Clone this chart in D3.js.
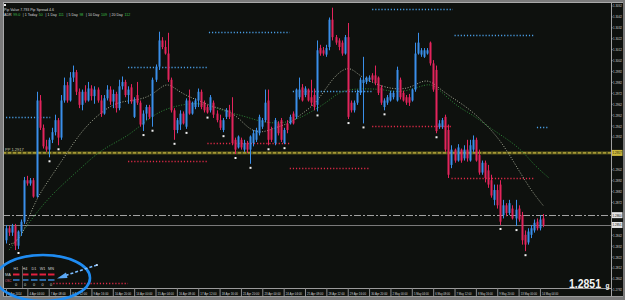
<!DOCTYPE html>
<html><head><meta charset="utf-8">
<script src="https://cdn.jsdelivr.net/npm/d3@7"></script>
<style>html,body{margin:0;padding:0;background:#777;} svg{display:block;}</style>
</head><body><svg id="c" width="625" height="300"></svg>
<script>
// ---------- DATA ----------
// H4 candles: [open, high, low, close]
const candles = [
[1.2837,1.2851,1.2834,1.2848],[1.2848,1.2850,1.2841,1.2844],[1.2844,1.2852,1.2841,1.2850],[1.2850,1.2852,1.2828,1.2832],
[1.2832,1.2846,1.2829,1.2845],[1.2845,1.2856,1.2841,1.2854],[1.2854,1.2895,1.2852,1.2892],[1.2892,1.2896,1.2887,1.2889],
[1.2889,1.2894,1.2887,1.2892],[1.2892,1.2894,1.2876,1.2877],[1.2877,1.2973,1.2876,1.2965],[1.2965,1.2970,1.2938,1.2940],
[1.2940,1.2943,1.2921,1.2923],[1.2923,1.2929,1.2918,1.2920],[1.2920,1.2931,1.2913,1.2929],[1.2929,1.2940,1.2926,1.2936],
[1.2936,1.2952,1.2933,1.2947],[1.2947,1.2949,1.2924,1.2931],[1.2931,1.2970,1.2929,1.2965],[1.2965,1.2986,1.2963,1.2979],
[1.2979,1.2982,1.2963,1.2965],[1.2965,1.2991,1.2964,1.2986],[1.2986,1.2997,1.2982,1.2991],[1.2991,1.2993,1.2970,1.2973],
[1.2973,1.2976,1.2958,1.2961],[1.2961,1.2975,1.2956,1.2973],[1.2973,1.2979,1.2963,1.2965],[1.2965,1.2982,1.2964,1.2976],
[1.2976,1.2979,1.2965,1.2969],[1.2969,1.2978,1.2962,1.2975],[1.2975,1.2977,1.2963,1.2965],[1.2965,1.2970,1.2950,1.2953],
[1.2953,1.2970,1.2952,1.2967],[1.2967,1.2979,1.2965,1.2975],[1.2975,1.2978,1.2961,1.2964],[1.2964,1.2975,1.2958,1.2971],
[1.2971,1.2973,1.2954,1.2958],[1.2958,1.2984,1.2956,1.2978],[1.2978,1.2987,1.2975,1.2982],[1.2982,1.2984,1.2968,1.2970],
[1.2970,1.2978,1.2962,1.2975],[1.2977,1.2980,1.2962,1.2964],[1.2950,1.2968,1.2949,1.2965],[1.2970,1.2982,1.2961,1.2963],
[1.2963,1.2965,1.2941,1.2943],[1.2943,1.2956,1.2937,1.2953],[1.2953,1.2961,1.2947,1.2959],[1.2959,1.2961,1.2948,1.2950],
[1.2950,1.2986,1.2941,1.2984],[1.2984,1.2998,1.2982,1.2996],[1.2996,1.3028,1.2993,1.3020],[1.3020,1.3023,1.3012,1.3014],
[1.3014,1.3020,1.3007,1.3008],[1.3008,1.3027,1.2982,1.2984],[1.2984,1.2986,1.2954,1.2956],[1.2956,1.2958,1.2929,1.2938],
[1.2938,1.2949,1.2935,1.2947],[1.2943,1.2956,1.2938,1.2953],[1.2953,1.2955,1.2943,1.2944],[1.2941,1.2967,1.2939,1.2965],
[1.2965,1.2975,1.2952,1.2953],[1.2953,1.2964,1.2952,1.2963],[1.2959,1.2967,1.2957,1.2965],[1.2965,1.2976,1.2959,1.2973],
[1.2973,1.2975,1.2957,1.2959],[1.2963,1.2965,1.2954,1.2956],[1.2959,1.2961,1.2953,1.2954],[1.2956,1.2970,1.2954,1.2968],
[1.2963,1.2965,1.2949,1.2952],[1.2953,1.2956,1.2945,1.2947],[1.2947,1.2952,1.2938,1.2940],[1.2938,1.2949,1.2936,1.2947],
[1.2950,1.2958,1.2948,1.2956],[1.2956,1.2961,1.2948,1.2950],[1.2953,1.2968,1.2924,1.2926],[1.2929,1.2931,1.2916,1.2920],
[1.2922,1.2933,1.2921,1.2932],[1.2929,1.2931,1.2920,1.2922],[1.2920,1.2929,1.2918,1.2926],[1.2926,1.2928,1.2917,1.2920],
[1.2920,1.2933,1.2907,1.2932],[1.2926,1.2938,1.2923,1.2935],[1.2929,1.2940,1.2927,1.2938],[1.2935,1.2952,1.2933,1.2950],
[1.2941,1.2949,1.2939,1.2947],[1.2947,1.2975,1.2945,1.2963],[1.2965,1.2975,1.2924,1.2929],[1.2938,1.2941,1.2927,1.2929],
[1.2926,1.2949,1.2924,1.2947],[1.2944,1.2946,1.2933,1.2935],[1.2947,1.2949,1.2927,1.2929],[1.2926,1.2940,1.2925,1.2938],
[1.2944,1.2947,1.2935,1.2938],[1.2944,1.2952,1.2943,1.2950],[1.2953,1.2955,1.2943,1.2944],[1.2950,1.2976,1.2948,1.2975],
[1.2968,1.2986,1.2966,1.2975],[1.2977,1.2980,1.2964,1.2965],[1.2970,1.2978,1.2968,1.2976],[1.2975,1.2976,1.2964,1.2965],
[1.2968,1.2984,1.2960,1.2963],[1.2970,1.2976,1.2956,1.2959],[1.2961,1.3020,1.2955,1.3011],[1.3013,1.3016,1.3006,1.3008],
[1.3011,1.3014,1.3006,1.3008],[1.3007,1.3016,1.3005,1.3013],[1.3014,1.3041,1.3011,1.3039],[1.3039,1.3050,1.3020,1.3023],
[1.3023,1.3025,1.3016,1.3018],[1.3020,1.3022,1.3011,1.3014],[1.3018,1.3020,1.3006,1.3008],[1.3008,1.3025,1.3007,1.3023],
[1.3023,1.3036,1.2948,1.2950],[1.2963,1.2965,1.2954,1.2956],[1.2956,1.2965,1.2954,1.2963],[1.2963,1.2975,1.2961,1.2972],
[1.2972,1.2986,1.2970,1.2984],[1.2981,1.3005,1.2944,1.2984],[1.2982,1.2987,1.2980,1.2986],[1.2984,1.2988,1.2982,1.2986],
[1.2988,1.2990,1.2982,1.2984],[1.2988,1.2997,1.2979,1.2981],[1.2986,1.2987,1.2970,1.2972],[1.2977,1.2979,1.2961,1.2963],
[1.2959,1.2967,1.2956,1.2965],[1.2963,1.2970,1.2961,1.2968],[1.2965,1.2974,1.2964,1.2972],[1.2968,1.2974,1.2966,1.2972],
[1.2965,1.2996,1.2964,1.2993],[1.2984,1.2986,1.2966,1.2968],[1.2972,1.2974,1.2964,1.2965],[1.2968,1.2970,1.2961,1.2963],
[1.2968,1.2971,1.2960,1.2963],[1.2965,1.2976,1.2964,1.2975],[1.2975,1.3018,1.2973,1.3008],[1.3008,1.3027,1.3007,1.3018],
[1.3007,1.3013,1.3005,1.3011],[1.3005,1.3013,1.3004,1.3011],[1.3008,1.3013,1.3007,1.3011],[1.3018,1.3019,1.2997,1.2999],
[1.2999,1.3002,1.2973,1.2975],[1.2993,1.2997,1.2935,1.2937],[1.2941,1.2947,1.2939,1.2944],[1.2941,1.2949,1.2939,1.2947],
[1.2950,1.2952,1.2918,1.2920],[1.2938,1.2943,1.2894,1.2897],[1.2906,1.2924,1.2903,1.2920],[1.2920,1.2921,1.2908,1.2910],
[1.2910,1.2925,1.2909,1.2922],[1.2920,1.2921,1.2908,1.2910],[1.2912,1.2924,1.2910,1.2920],[1.2920,1.2929,1.2909,1.2912],
[1.2910,1.2929,1.2909,1.2924],[1.2920,1.2933,1.2918,1.2929],[1.2929,1.2931,1.2909,1.2910],[1.2915,1.2920,1.2897,1.2899],
[1.2899,1.2910,1.2897,1.2908],[1.2908,1.2910,1.2890,1.2894],[1.2901,1.2906,1.2885,1.2888],[1.2892,1.2897,1.2876,1.2878],
[1.2874,1.2888,1.2869,1.2883],[1.2883,1.2888,1.2866,1.2869],[1.2888,1.2892,1.2851,1.2854],[1.2860,1.2874,1.2857,1.2869],
[1.2869,1.2871,1.2859,1.2862],[1.2862,1.2874,1.2860,1.2871],[1.2866,1.2869,1.2856,1.2857],[1.2857,1.2874,1.2850,1.2865],
[1.2866,1.2869,1.2854,1.2856],[1.2860,1.2863,1.2833,1.2837],[1.2842,1.2846,1.2827,1.2833],[1.2835,1.2848,1.2833,1.2845],
[1.2842,1.2851,1.2839,1.2848],[1.2846,1.2856,1.2844,1.2853],[1.2854,1.2857,1.2846,1.2848],[1.2848,1.2860,1.2846,1.2856],
[1.2857,1.2861,1.2849,1.2851]
];
// candles marked with a fractal-low dot
const fractalIdx = [4,14,17,45,48,55,59,66,71,75,80,86,91,102,112,117,124,141,162,167,170];
// moving averages: [candle index, price]
const maFast = [[1,1.2833],[5,1.2837],[9,1.2871],[14,1.2892],[20,1.2917],[25,1.2938],[31,1.2954],[36,1.2963],[41,1.2965],
 [46,1.2967],[50,1.2975],[53,1.2982],[57,1.2972],[63,1.2965],[69,1.2958],[73,1.2956],[77,1.2947],[80,1.2938],[84,1.2935],
 [89,1.2941],[93,1.2944],[97,1.2953],[102,1.2963],[107,1.2986],[112,1.2997],[115,1.2990],[118,1.2984],[124,1.2977],
 [129,1.2975],[133,1.2977],[138,1.2986],[142,1.2976],[146,1.2968],[151,1.2959],[156,1.2947],[162,1.2929],[167,1.2906],
 [172,1.2883],[176,1.2869]];
const maSlow = [[1,1.2828],[7,1.2851],[14,1.2877],[25,1.2904],[31,1.2920],[40,1.2932],[46,1.2947],[51,1.2956],[57,1.2961],
 [63,1.2963],[68,1.2959],[73,1.2954],[79,1.2950],[84,1.2945],[90,1.2944],[95,1.2947],[101,1.2956],[106,1.2965],[110,1.2975],
 [118,1.2976],[124,1.2975],[129,1.2972],[135,1.2977],[139,1.2981],[142,1.2975],[148,1.2959],[153,1.2952],[158,1.2941],
 [163,1.2932],[169,1.2920],[173,1.2906],[178,1.2894]];
// period high / low dotted levels: [from index, to index, price]
const highLevels = [[0,14.5,1.2950],[40,66,1.2996],[66.5,93,1.3028],[94,120,1.2974],[120,146.5,1.3049],[147,173,1.3025],[174,178,1.2941]];
const lowLevels  = [[15.5,40,1.2798],[40,66,1.2910],[66,93,1.2926],[93,119,1.2903],[120,146,1.2942],[146,173,1.2894]];
const pivotLevel = 1.2917;
const dashLevel = 1.2860;
const lastPrice = 1.2851;
const priceTicks = [1.3052,1.3042,1.3032,1.3022,1.3012,1.3002,1.2992,1.2982,1.2972,1.2962,1.2952,1.2942,1.2932,1.2922,
 1.2912,1.2902,1.2892,1.2882,1.2872,1.2862,1.2852,1.2842,1.2832,1.2822,1.2812,1.2802,1.2792];
const timeIdx = [0,7,14,21,28,35,42,49,56,63,70,77,84,91,98,105,112,119,126,133,140,147,154,161,168,175];
const timeLabels = ["3 Apr 2014","4 Apr 04:00","7 Apr 08:00","8 Apr 12:00","9 Apr 16:00","10 Apr 20:00","14 Apr 00:00",
 "15 Apr 04:00","16 Apr 08:00","17 Apr 12:00","18 Apr 16:00","21 Apr 20:00","23 Apr 00:00","24 Apr 04:00","25 Apr 08:00",
 "28 Apr 12:00","29 Apr 16:00","30 Apr 20:00","2 May 00:00","5 May 04:00","6 May 08:00","7 May 12:00","8 May 16:00",
 "9 May 20:00","13 May 00:00","14 May 04:00"];
const infoLine = ["Pip Value 7.793","Pip Spread 4.6"];
const statLabels = ["ADR","| 1 Today","| 1 Day","| 5 Day","| 10 Day","| 20 Day"];
const statValues = ["99.0","50","111","98","109","112"];
const tfHeaders = ["H1","H4","D1","W1","MN"];
const tfCounts = ["0","0","0","0","0"];
const pivotName = "PP";

// ---------- DRAW ----------
const W=625,H=300;
const FONT="'Liberation Sans', Arial, sans-serif";
const BULL="#3a8fea", BEAR="#e3245c";
const svg=d3.select("#c");
const x=d3.scaleLinear().domain([0,176]).range([6,543]);
const y=d3.scaleLinear().domain([1.2792,1.3052]).range([289.4,5.5]);

svg.append("rect").attr("width",W).attr("height",H).attr("fill","#7a7a7a");
svg.append("rect").attr("x",3).attr("y",2).attr("width",620).attr("height",295).attr("fill","#0e110e");
svg.append("defs").append("clipPath").attr("id","plot").append("rect")
  .attr("x",3.5).attr("y",2.5).attr("width",607.5).attr("height",285.5);
const plot=svg.append("g").attr("clip-path","url(#plot)");

// pivot line (olive band + yellow dashes)
plot.append("rect").attr("x",3).attr("width",608).attr("y",y(pivotLevel)-1.5).attr("height",3).attr("fill","#58551d");
plot.append("line").attr("x1",3).attr("x2",611).attr("y1",y(pivotLevel)).attr("y2",y(pivotLevel))
  .attr("stroke","#d9c844").attr("stroke-width",1).attr("stroke-dasharray","3,2");
// dash-dot line and current price line
plot.append("line").attr("x1",3).attr("x2",611).attr("y1",Math.round(y(dashLevel))+0.5).attr("y2",Math.round(y(dashLevel))+0.5)
  .attr("stroke","#a2a2a2").attr("stroke-width",1).attr("stroke-dasharray","7,2,2,2");
plot.append("line").attr("x1",3).attr("x2",611).attr("y1",Math.round(y(lastPrice))+0.5).attr("y2",Math.round(y(lastPrice))+0.5)
  .attr("stroke","#7a7a7a").attr("stroke-width",1);

// dotted period levels
function levels(arr,color){
  plot.append("g").selectAll("line").data(arr).join("line")
    .attr("x1",d=>x(d[0])).attr("x2",d=>x(d[1]))
    .attr("y1",d=>Math.round(y(d[2]))+0.5).attr("y2",d=>Math.round(y(d[2]))+0.5)
    .attr("stroke",color).attr("stroke-width",1.3).attr("stroke-dasharray","1.2,1.9");
}
levels(highLevels,"#4a9fe6");
levels(lowLevels,"#e02a48");

// moving averages
const line=d3.line().x(d=>x(d[0])).y(d=>y(d[1])).curve(d3.curveBasis);
plot.append("path").datum(maSlow).attr("d",line).attr("fill","none").attr("stroke","#2f8a3a")
  .attr("stroke-width",1).attr("stroke-dasharray","1,1.6");
plot.append("path").datum(maFast).attr("d",line).attr("fill","none").attr("stroke","#a8ad98")
  .attr("stroke-width",1).attr("stroke-dasharray","1,1.6");

// candles
const cg=plot.append("g");
const cs=cg.selectAll("g").data(candles).join("g");
cs.append("line")
  .attr("x1",(d,i)=>Math.round(x(i))+0.5).attr("x2",(d,i)=>Math.round(x(i))+0.5)
  .attr("y1",d=>y(d[1])).attr("y2",d=>y(d[2]))
  .attr("stroke",d=>d[3]>=d[0]?BULL:BEAR).attr("stroke-width",1);
cs.append("rect")
  .attr("x",(d,i)=>Math.round(x(i))-0.5).attr("width",2)
  .attr("y",d=>y(Math.max(d[0],d[3])))
  .attr("height",d=>Math.max(1,Math.abs(y(d[0])-y(d[3]))))
  .attr("fill",d=>d[3]>=d[0]?BULL:BEAR);

// fractal dots
plot.append("g").selectAll("rect").data(fractalIdx).join("rect")
  .attr("x",i=>Math.round(x(i))-0.5).attr("y",i=>y(candles[i][2])+3).attr("width",2).attr("height",2).attr("fill","#f0f0f0");

// frame lines
svg.append("line").attr("x1",3.5).attr("x2",3.5).attr("y1",2).attr("y2",297).attr("stroke","#a9a9a9");
svg.append("line").attr("x1",3).attr("x2",623).attr("y1",2.5).attr("y2",2.5).attr("stroke","#a9a9a9");
svg.append("line").attr("x1",611.5).attr("x2",611.5).attr("y1",2).attr("y2",297).attr("stroke","#a0a0a0");
svg.append("line").attr("x1",3).attr("x2",611).attr("y1",288.5).attr("y2",288.5).attr("stroke","#9a9a9a");
svg.append("line").attr("x1",3).attr("x2",623).attr("y1",296.5).attr("y2",296.5).attr("stroke","#9a9a9a");

// right price axis
const hl=[pivotLevel,dashLevel,lastPrice];
const ra=svg.append("g").attr("transform","translate(611,0)")
  .call(d3.axisRight(y).tickValues(priceTicks.filter(p=>hl.every(h=>Math.abs(y(p)-y(h))>6.5))).tickFormat(d3.format(".4f")).tickSize(1.5));
ra.select(".domain").remove();
ra.selectAll("line").attr("stroke","#aaa");
ra.selectAll("text").attr("x",2).attr("font-size",4.4).attr("font-family",FONT).attr("fill","#cfcfcf")
  .attr("textLength",9).attr("lengthAdjust","spacingAndGlyphs");
const hlStyle=[[pivotLevel,"#cbb83c"],[dashLevel,"#e4e4e4"],[lastPrice,"#e4e4e4"]];
hlStyle.forEach(([p,c])=>{
  svg.append("rect").attr("x",612).attr("y",y(p)-3).attr("width",10.5).attr("height",6).attr("fill",c);
  svg.append("text").attr("x",612.6).attr("y",y(p)+1.5).attr("font-size",4.4).attr("font-family",FONT).attr("fill","#111")
    .attr("textLength",9).attr("lengthAdjust","spacingAndGlyphs").text(d3.format(".4f")(p));
});

// bottom time axis
const ba=svg.append("g").attr("transform","translate(0,288)")
  .call(d3.axisBottom(x).tickValues(timeIdx).tickFormat((d,i)=>timeLabels[i]).tickSize(8));
ba.select(".domain").remove();
ba.selectAll("line").attr("stroke","#8a8a8a");
ba.selectAll("text").attr("text-anchor","start").attr("x",1.6).attr("y",6.6).attr("dy",null)
  .attr("font-size",3.8).attr("font-family",FONT).attr("fill","#d6d6d6")
  .attr("textLength",d=>timeLabels[timeIdx.indexOf(d)].length*1.35).attr("lengthAdjust","spacingAndGlyphs");

// pivot label
svg.append("text").attr("x",5).attr("y",y(pivotLevel)-2.2).attr("font-size",4).attr("font-family",FONT).attr("fill","#c9c9a8")
  .text(pivotName+" "+d3.format(".4f")(pivotLevel));

// top-left info
svg.append("rect").attr("x",4).attr("y",4).attr("width",2).attr("height",2).attr("fill","#eee");
svg.append("text").attr("x",4).attr("y",10.5).attr("font-size",4.2).attr("font-family",FONT).attr("fill","#d8d8d8")
  .attr("textLength",50).attr("lengthAdjust","spacingAndGlyphs").text(infoLine[0]+"   "+infoLine[1]);
let sx=4;
statLabels.forEach((s,i)=>{
  const a=svg.append("text").attr("x",sx).attr("y",16).attr("font-size",3.6).attr("font-family",FONT).attr("fill","#d8d8d8").text(s);
  sx+=a.node().getComputedTextLength()+1.6;
  const b=svg.append("text").attr("x",sx).attr("y",16).attr("font-size",3.6).attr("font-family",FONT).attr("fill","#3fc24a").text(statValues[i]);
  sx+=b.node().getComputedTextLength()+2.6;
});

// bottom-left timeframe table
const tfX=[13,22,31,39.5,48];
tfHeaders.forEach((h,i)=>{
  svg.append("text").attr("x",tfX[i]+3).attr("y",270).attr("text-anchor","middle").attr("font-size",3.8)
    .attr("font-family",FONT).attr("fill","#d0d0d0").text(h);
  svg.append("line").attr("x1",tfX[i]).attr("x2",tfX[i]+6.5).attr("y1",274.5).attr("y2",274.5).attr("stroke","#e2203e").attr("stroke-width",2);
  svg.append("line").attr("x1",tfX[i]).attr("x2",tfX[i]+6.5).attr("y1",280).attr("y2",280).attr("stroke","#3a8fe6").attr("stroke-width",1.4);
  svg.append("text").attr("x",tfX[i]+3).attr("y",286).attr("text-anchor","middle").attr("font-size",3.8)
    .attr("font-family",FONT).attr("fill","#d0d0d0").text(tfCounts[i]);
});
svg.append("text").attr("x",5).attr("y",276).attr("font-size",3.8).attr("font-family",FONT).attr("fill","#d0d0d0").text("MA");
svg.append("text").attr("x",5).attr("y",281.5).attr("font-size",3.6).attr("font-family",FONT).attr("fill","#e06080")
  .attr("textLength",6.5).attr("lengthAdjust","spacingAndGlyphs").text("OSC");
svg.append("line").attr("x1",22.5).attr("x2",22.5).attr("y1",266).attr("y2",288).attr("stroke","#5a5a5a");

// annotation: ellipse and dashed arrow
svg.append("ellipse").attr("cx",43).attr("cy",278).attr("rx",47).attr("ry",23)
  .attr("fill","none").attr("stroke","#1f8cf2").attr("stroke-width",2.6);
svg.append("line").attr("x1",97).attr("y1",265).attr("x2",64).attr("y2",276)
  .attr("stroke","#7bbcff").attr("stroke-width",1.6).attr("stroke-dasharray","3,2");
svg.append("path").attr("d","M57,278.5 L66,272.5 L67.5,278 Z").attr("fill","#5aa8f5");
svg.append("circle").attr("cx",97).attr("cy",265).attr("r",1).attr("fill","#cfe6ff");

// big last price
svg.append("text").attr("x",569).attr("y",288).attr("font-size",12).attr("font-weight","bold")
  .attr("font-family",FONT).attr("fill","#f4f4f4").attr("textLength",32).attr("lengthAdjust","spacingAndGlyphs")
  .text(d3.format(".4f")(lastPrice));
svg.append("text").attr("x",605.5).attr("y",288).attr("font-size",6.5).attr("font-weight","bold")
  .attr("font-family",FONT).attr("fill","#f4f4f4").text("g");
</script></body></html>
